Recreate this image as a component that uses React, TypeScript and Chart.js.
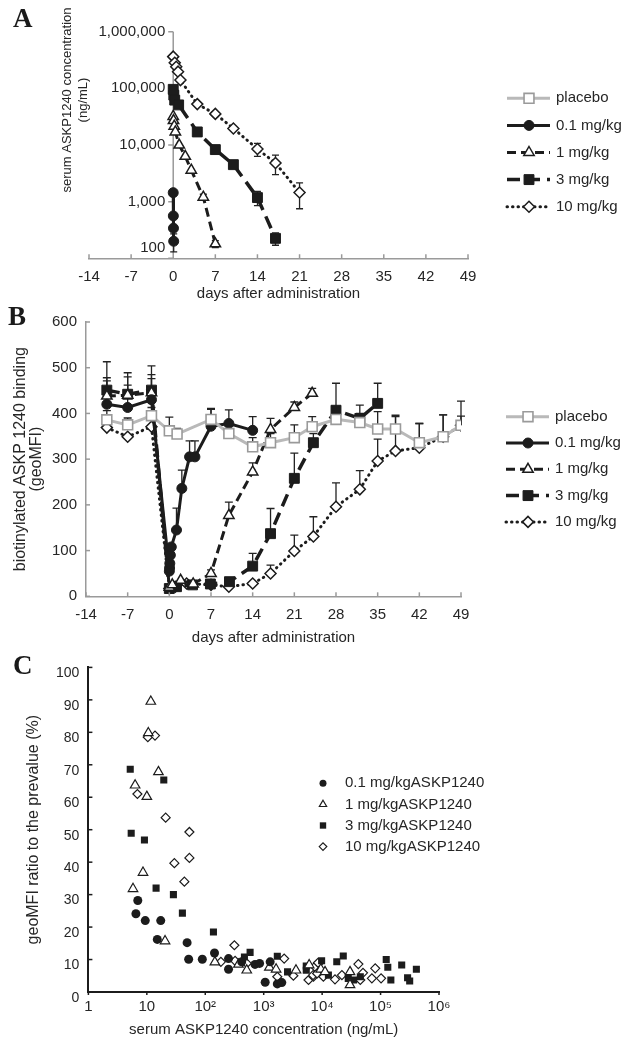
import React, { useEffect, useRef } from 'react';
import { Chart, registerables } from 'chart.js';

Chart.register(...registerables);

const FONT = "'Liberation Sans', Arial, Helvetica, sans-serif";
const TEXT = '#262626';
const AXIS_GRAY = '#9a9a9a';
const INK = '#1c1c1c';

// ================= Panel A : serum concentration (ng/mL) =================
const DAY_TICKS = [-14, -7, 0, 7, 14, 21, 28, 35, 42, 49];
const A_CONC_TICKS = [100, 1000, 10000, 100000, 1000000];

const A_DAY_01 = [0, 0.02, 0.04, 0.08];
const A_CONC_01 = [1440, 560, 340, 200];
const A_SD_01 = [0, 0, 0, 70];

const A_DAY_1 = [0, 0.05, 0.17, 0.35, 1, 2, 3, 5, 7];
const A_CONC_1 = [32000, 27000, 21500, 17000, 10000, 6300, 3600, 1200, 180];
const A_SD_1 = [0, 0, 0, 0, 0, 0, 0, 150, 25];

const A_DAY_3 = [0, 0.1, 0.25, 0.9, 4, 7, 10, 14, 17];
const A_CONC_3 = [96000, 76000, 62000, 51000, 17000, 8300, 4500, 1180, 225];
const A_SD_3 = [0, 0, 0, 0, 0, 0, 0, 330, 55];

const A_DAY_10 = [0, 0.25, 0.5, 0.8, 1.2, 4, 7, 10, 14, 17, 21];
const A_CONC_10 = [363000, 283000, 241000, 197000, 140000, 52700, 35400, 19600, 8500, 4800, 1450];
const A_SD_10 = [0, 0, 0, 0, 0, 0, 0, 0, 2200, 1800, 700];

// ================= Panel B : biotinylated ASKP1240 binding (geoMFI) =================
const B_DAY_PL = [-10.5, -7, -3, 0, 1.3, 7, 10, 14, 17, 21, 24, 28, 32, 35, 38, 42, 46, 49];
const B_MFI_PL = [386, 375, 395, 362, 355, 387, 356, 327, 336, 347, 371, 387, 380, 366, 366, 336, 349, 374];
const B_SE_PL = [20, 15, 18, 30, 12, 24, 20, 20, 20, 28, 22, 15, 20, 38, 30, 42, 48, 53];

const B_DAY_01 = [-10.5, -7, -3, 0, 0.04, 0.08, 0.17, 0.33, 1.2, 2.1, 3.4, 4.3, 7, 10, 14];
const B_MFI_01 = [420, 413, 430, 55, 62, 72, 90, 108, 145, 236, 305, 305, 372, 378, 363];
const B_SE_01 = [51, 49, 46, 0, 0, 0, 0, 0, 48, 40, 35, 35, 37, 30, 30];

const B_DAY_1 = [-10.5, -7, -3, 0, 0.5, 1.9, 4, 7, 10, 14, 17, 21, 24];
const B_MFI_1 = [438, 440, 445, 20, 25, 35, 27, 50, 177, 272, 365, 413, 444];
const B_SE_1 = [40, 40, 40, 0, 0, 0, 0, 8, 29, 20, 24, 12, 11];

const B_DAY_3 = [-10.5, -7, -3, 0, 1.2, 3.9, 6.9, 10.1, 14, 17, 21, 24.2, 28, 32, 35];
const B_MFI_3 = [451, 442, 451, 17, 21, 25, 27, 32, 66, 137, 258, 336, 407, 389, 422];
const B_SE_3 = [62, 47, 53, 0, 0, 0, 0, 0, 28, 55, 55, 20, 59, 29, 44];

const B_DAY_10 = [-10.5, -7, -3, 0, 1, 2.9, 7, 10, 14, 17, 21, 24.2, 28, 32, 35, 38, 42, 46, 49];
const B_MFI_10 = [369, 349, 371, 17, 21, 28, 25, 21, 28, 50, 99, 131, 196, 234, 296, 318, 325, 349, 374];
const B_SE_10 = [0, 0, 0, 0, 0, 0, 0, 0, 0, 18, 35, 43, 52, 41, 48, 75, 53, 48, 20];

// ================= Panel C : geoMFI ratio vs serum concentration =================
const C_X_TICKS = [1, 10, 100, 1000, 10000, 100000, 1000000];
const C_X_LABELS = ['1', '10', '10²', '10³', '10⁴', '10⁵', '10⁶'];

const C_CONC_01 = [7, 6.5, 9.4, 17.3, 15.1, 48.9, 52, 89, 144, 250, 250, 420, 710, 850, 1290, 1060, 1710, 2040];
const C_RATIO_01 = [28.2, 24.1, 22, 22, 16.2, 15.2, 10.1, 10.1, 12, 10.3, 7, 9.3, 8.5, 8.8, 9.3, 3, 2.5, 2.9];

const C_CONC_1 = [11.7, 10.6, 15.8, 6.3, 10, 8.6, 5.8, 20.5, 146, 370, 513, 1250, 1630, 3570, 6000, 9500, 11200, 30000, 30000];
const C_RATIO_1 = [89.5, 79.8, 67.8, 63.7, 60.2, 36.8, 31.8, 15.7, 9.2, 8.5, 6.7, 7.6, 7, 6.7, 8.3, 7, 6.2, 6.2, 2.2];

const C_CONC_3 = [5.2, 19.5, 5.4, 9.1, 14.4, 28.5, 40.6, 138, 585, 468, 1710, 2560, 5350, 5350, 9800, 12800, 17800, 23000, 28000, 34500, 45000, 125000, 133000, 150000, 230000, 290000, 315000, 410000];
const C_RATIO_3 = [68.6, 65.3, 48.9, 46.8, 32, 30, 24.3, 18.5, 12.2, 10.8, 11, 6.2, 8, 6.7, 9.6, 5.2, 9.3, 11.1, 4.2, 3.7, 4.7, 10, 7.6, 3.7, 8.3, 4.4, 3.4, 7];

const C_CONC_10 = [10.4, 13.8, 6.9, 21, 53.5, 53.5, 29.6, 43.9, 315, 185, 324, 513, 1710, 2240, 3220, 5850, 7100, 8700, 7500, 8500, 7000, 8200, 10500, 16600, 21800, 41700, 50000, 45000, 71000, 81000, 102000];
const C_RATIO_10 = [78.5, 79, 61, 53.7, 49.3, 41.3, 39.7, 34, 14.4, 9.3, 9.6, 8.8, 4.7, 10.3, 5, 3.7, 4.7, 8.8, 7.8, 9, 5.2, 5.7, 4.7, 3.9, 5.2, 8.6, 5.9, 3.7, 4.2, 7.3, 4.2];

// ================= styles =================
type St = { color: string; width: number; dash: number[]; cap: CanvasLineCap; point: string; radius: number; fill: string; edge: string; edgeW: number };
const ST_PLACEBO: St = { color: '#b9b9b9', width: 3, dash: [], cap: 'butt', point: 'rect', radius: 7, fill: '#ffffff', edge: '#9a9a9a', edgeW: 1.6 };
const ST_01: St = { color: INK, width: 3, dash: [], cap: 'butt', point: 'circle', radius: 5, fill: INK, edge: INK, edgeW: 1 };
const ST_1: St = { color: INK, width: 3, dash: [9, 5], cap: 'butt', point: 'triangle', radius: 6, fill: '#ffffff', edge: INK, edgeW: 1.5 };
const ST_3: St = { color: INK, width: 3.5, dash: [13, 7], cap: 'butt', point: 'rect', radius: 7, fill: INK, edge: INK, edgeW: 1 };
const ST_10: St = { color: INK, width: 3, dash: [0.5, 5], cap: 'round', point: 'rectRot', radius: 5.5, fill: '#ffffff', edge: INK, edgeW: 1.5 };

function lineDs(label: string, xs: number[], ys: number[], errs: number[], st: St) {
  return {
    label,
    data: xs.map((x, i) => ({ x, y: ys[i] })),
    errs,
    borderColor: st.color,
    borderWidth: st.width,
    borderDash: st.dash,
    borderCapStyle: st.cap,
    pointStyle: st.point,
    pointRadius: st.radius,
    pointBackgroundColor: st.fill,
    pointBorderColor: st.edge,
    pointBorderWidth: st.edgeW,
    tension: 0,
    fill: false,
  };
}

function drawMarker(ctx: CanvasRenderingContext2D, style: string, x: number, y: number, r: number, fill: string, stroke: string, lw: number) {
  ctx.save();
  ctx.setLineDash([]);
  ctx.beginPath();
  if (style === 'circle') {
    ctx.arc(x, y, r, 0, Math.PI * 2);
  } else if (style === 'rect') {
    const s = r * Math.SQRT1_2;
    ctx.rect(x - s, y - s, 2 * s, 2 * s);
  } else if (style === 'triangle') {
    ctx.moveTo(x, y - r);
    ctx.lineTo(x + r * 0.866, y + r * 0.5);
    ctx.lineTo(x - r * 0.866, y + r * 0.5);
  } else {
    ctx.moveTo(x - r, y);
    ctx.lineTo(x, y - r);
    ctx.lineTo(x + r, y);
    ctx.lineTo(x, y + r);
  }
  ctx.closePath();
  ctx.fillStyle = fill;
  ctx.fill();
  if (lw > 0) {
    ctx.lineWidth = lw;
    ctx.strokeStyle = stroke;
    ctx.stroke();
  }
  ctx.restore();
}

function errorBars(both: boolean, cap: number) {
  return {
    id: 'errorBars',
    beforeDatasetsDraw(chart: any) {
      const ctx = chart.ctx;
      const xs = chart.scales.x;
      const ys = chart.scales.y;
      ctx.save();
      ctx.strokeStyle = '#222';
      ctx.lineWidth = 1.3;
      chart.data.datasets.forEach((ds: any) => {
        if (!ds.errs) return;
        ds.data.forEach((p: any, i: number) => {
          const e = ds.errs[i];
          if (!e) return;
          const px = xs.getPixelForValue(p.x);
          const y0 = ys.getPixelForValue(p.y);
          const yt = ys.getPixelForValue(p.y + e);
          ctx.beginPath();
          ctx.moveTo(px, y0);
          ctx.lineTo(px, yt);
          ctx.moveTo(px - cap, yt);
          ctx.lineTo(px + cap, yt);
          if (both) {
            const yb = ys.getPixelForValue(Math.max(p.y - e, p.y * 0.1));
            ctx.moveTo(px, y0);
            ctx.lineTo(px, yb);
            ctx.moveTo(px - cap, yb);
            ctx.lineTo(px + cap, yb);
          }
          ctx.stroke();
        });
      });
      ctx.restore();
    },
  };
}

function lineLegend(x0: number, y0: number, dy: number) {
  return {
    id: 'lineLegend',
    afterDraw(chart: any) {
      const ctx = chart.ctx;
      chart.data.datasets.forEach((ds: any, i: number) => {
        const y = y0 + i * dy;
        ctx.save();
        ctx.strokeStyle = ds.borderColor;
        ctx.lineWidth = ds.borderWidth;
        ctx.lineCap = ds.borderCapStyle || 'butt';
        ctx.setLineDash(ds.borderDash || []);
        ctx.beginPath();
        ctx.moveTo(x0, y);
        ctx.lineTo(x0 + 43, y);
        ctx.stroke();
        drawMarker(ctx, ds.pointStyle, x0 + 22, y, ds.pointRadius, ds.pointBackgroundColor, ds.pointBorderColor, ds.pointBorderWidth);
        ctx.fillStyle = TEXT;
        ctx.font = `15px ${FONT}`;
        ctx.textAlign = 'left';
        ctx.textBaseline = 'middle';
        ctx.fillText(ds.label, x0 + 49, y);
        ctx.restore();
      });
    },
  };
}

function tickMarks(color: string, width: number, xLen: number, yLen: number) {
  return {
    id: 'tickMarks',
    afterDraw(chart: any) {
      const { ctx, chartArea: ca, scales } = chart;
      ctx.save();
      ctx.strokeStyle = color;
      ctx.lineWidth = width;
      scales.x.ticks.forEach((t: any) => {
        const px = scales.x.getPixelForValue(t.value);
        ctx.beginPath();
        ctx.moveTo(px, ca.bottom);
        ctx.lineTo(px, ca.bottom - xLen);
        ctx.stroke();
      });
      scales.y.ticks.forEach((t: any) => {
        const py = scales.y.getPixelForValue(t.value);
        ctx.beginPath();
        ctx.moveTo(ca.left, py);
        ctx.lineTo(ca.left + yLen, py);
        ctx.stroke();
      });
      ctx.restore();
    },
  };
}

// y-axis of panel A crosses the x-axis at day 0
const aAxisLine = {
  id: 'aAxisLine',
  beforeDatasetsDraw(chart: any) {
    const { ctx, chartArea: ca, scales } = chart;
    const x0 = scales.x.getPixelForValue(0);
    ctx.save();
    ctx.strokeStyle = AXIS_GRAY;
    ctx.lineWidth = 1.5;
    ctx.beginPath();
    ctx.moveTo(x0, ca.top);
    ctx.lineTo(x0, ca.bottom);
    A_CONC_TICKS.forEach((v) => {
      const py = scales.y.getPixelForValue(v);
      ctx.moveTo(x0 - 5, py);
      ctx.lineTo(x0, py);
    });
    DAY_TICKS.forEach((d) => {
      const px = scales.x.getPixelForValue(d);
      ctx.moveTo(px, ca.bottom);
      ctx.lineTo(px, ca.bottom - 4);
    });
    ctx.stroke();
    ctx.restore();
  },
  afterDraw(chart: any) {
    const { ctx, scales } = chart;
    const x0 = scales.x.getPixelForValue(0);
    ctx.save();
    ctx.fillStyle = TEXT;
    ctx.font = `15px ${FONT}`;
    ctx.textAlign = 'right';
    ctx.textBaseline = 'middle';
    A_CONC_TICKS.forEach((v, i) => {
      const py = scales.y.getPixelForValue(v);
      ctx.fillText(v.toLocaleString('en-US'), x0 - 8, i === 0 ? py - 10 : py);
    });
    ctx.translate(67, 100);
    ctx.rotate(-Math.PI / 2);
    ctx.textAlign = 'center';
    ctx.font = `13px ${FONT}`;
    ctx.fillText('serum ASKP1240 concentration', 0, 0);
    ctx.fillText('(ng/mL)', 0, 16.5);
    ctx.restore();
  },
};

const tickFont = { family: FONT, size: 15 };

function buildA() {
  return {
    type: 'line',
    data: {
      datasets: [
        lineDs('placebo', [], [], [], ST_PLACEBO),
        lineDs('0.1 mg/kg', A_DAY_01, A_CONC_01, A_SD_01, ST_01),
        lineDs('1 mg/kg', A_DAY_1, A_CONC_1, A_SD_1, ST_1),
        lineDs('3 mg/kg', A_DAY_3, A_CONC_3, A_SD_3, ST_3),
        lineDs('10 mg/kg', A_DAY_10, A_CONC_10, A_SD_10, ST_10),
      ],
    },
    options: {
      responsive: false,
      animation: false,
      devicePixelRatio: 1,
      events: [],
      layout: { padding: { left: 89, right: 155, top: 31.7, bottom: 0 } },
      plugins: { legend: { display: false }, tooltip: { enabled: false } },
      scales: {
        x: {
          type: 'linear',
          min: -14,
          max: 49,
          afterBuildTicks: (s: any) => { s.ticks = DAY_TICKS.map((v) => ({ value: v })); },
          afterFit: (s: any) => { s.height = 51.7; },
          grid: { display: false, drawTicks: false },
          border: { display: true, color: AXIS_GRAY, width: 1.5 },
          ticks: { padding: 10, font: tickFont, color: TEXT, autoSkip: false, maxRotation: 0 },
          title: { display: true, text: 'days after administration', color: TEXT, font: { family: FONT, size: 15 }, padding: { top: 0, bottom: 7 } },
        },
        y: { type: 'logarithmic', display: false, min: 100, max: 1000000 },
      },
    },
    plugins: [aAxisLine, errorBars(true, 3.5), lineLegend(507, 98.3, 27.1)],
  };
}

function buildB() {
  return {
    type: 'line',
    data: {
      datasets: [
        lineDs('placebo', B_DAY_PL, B_MFI_PL, B_SE_PL, ST_PLACEBO),
        lineDs('0.1 mg/kg', B_DAY_01, B_MFI_01, B_SE_01, ST_01),
        lineDs('1 mg/kg', B_DAY_1, B_MFI_1, B_SE_1, ST_1),
        lineDs('3 mg/kg', B_DAY_3, B_MFI_3, B_SE_3, ST_3),
        lineDs('10 mg/kg', B_DAY_10, B_MFI_10, B_SE_10, ST_10),
      ],
    },
    options: {
      responsive: false,
      animation: false,
      devicePixelRatio: 1,
      events: [],
      layout: { padding: { left: 0, right: 162, top: 32, bottom: 0 } },
      plugins: { legend: { display: false }, tooltip: { enabled: false } },
      scales: {
        x: {
          type: 'linear',
          min: -14,
          max: 49,
          afterBuildTicks: (s: any) => { s.ticks = DAY_TICKS.map((v) => ({ value: v })); },
          afterFit: (s: any) => { s.height = 53.7; },
          grid: { display: false, drawTicks: false },
          border: { display: true, color: AXIS_GRAY, width: 1.5 },
          ticks: { padding: 10, font: tickFont, color: TEXT, autoSkip: false, maxRotation: 0 },
          title: { display: true, text: 'days after administration', color: TEXT, font: { family: FONT, size: 15 }, padding: { top: 0, bottom: 3 } },
        },
        y: {
          type: 'linear',
          min: 0,
          max: 600,
          afterFit: (s: any) => { s.width = 86; },
          grid: { display: false, drawTicks: false },
          border: { display: true, color: AXIS_GRAY, width: 1.5 },
          ticks: { stepSize: 100, padding: 9, font: tickFont, color: TEXT },
          title: {
            display: true,
            text: ['biotinylated ASKP 1240 binding', '(geoMFI)'],
            color: TEXT,
            font: { family: FONT, size: 16, lineHeight: 1 },
            padding: { top: 13, bottom: 0 },
          },
        },
      },
    },
    plugins: [errorBars(false, 4), tickMarks(AXIS_GRAY, 1.5, 4, 4), lineLegend(506, 126.7, 26.3)],
  };
}

type CSt = { point: string; radius: number; fill: string; edgeW: number; legendR: number };
const CST_01: CSt = { point: 'circle', radius: 4.5, fill: INK, edgeW: 0, legendR: 3.5 };
const CST_1: CSt = { point: 'triangle', radius: 5.5, fill: '#ffffff', edgeW: 1.2, legendR: 4.2 };
const CST_3: CSt = { point: 'rect', radius: 5, fill: INK, edgeW: 0, legendR: 4.5 };
const CST_10: CSt = { point: 'rectRot', radius: 4.5, fill: '#ffffff', edgeW: 1.2, legendR: 3.8 };

function scatterDs(label: string, xs: number[], ys: number[], st: CSt) {
  return {
    label,
    data: xs.map((x, i) => ({ x, y: ys[i] })),
    showLine: false,
    pointStyle: st.point,
    pointRadius: st.radius,
    pointBackgroundColor: st.fill,
    pointBorderColor: INK,
    pointBorderWidth: st.edgeW,
    legendR: st.legendR,
  };
}

const scatterLegend = {
  id: 'scatterLegend',
  afterDraw(chart: any) {
    const ctx = chart.ctx;
    chart.data.datasets.forEach((ds: any, i: number) => {
      const y = 133.3 + i * 21.1;
      drawMarker(ctx, ds.pointStyle, 323, y, ds.legendR, ds.pointBackgroundColor, ds.pointBorderColor, ds.pointBorderWidth);
      ctx.save();
      ctx.fillStyle = TEXT;
      ctx.font = `15px ${FONT}`;
      ctx.textAlign = 'left';
      ctx.textBaseline = 'middle';
      ctx.fillText(ds.label, 345, y);
      ctx.restore();
    });
  },
};

function buildC() {
  return {
    type: 'scatter',
    data: {
      datasets: [
        scatterDs('0.1 mg/kgASKP1240', C_CONC_01, C_RATIO_01, CST_01),
        scatterDs('1 mg/kgASKP1240', C_CONC_1, C_RATIO_1, CST_1),
        scatterDs('3 mg/kgASKP1240', C_CONC_3, C_RATIO_3, CST_3),
        scatterDs('10 mg/kgASKP1240', C_CONC_10, C_RATIO_10, CST_10),
      ],
    },
    options: {
      responsive: false,
      animation: false,
      devicePixelRatio: 1,
      events: [],
      layout: { padding: { left: 0, right: 184, top: 15.7, bottom: 0 } },
      plugins: { legend: { display: false }, tooltip: { enabled: false } },
      scales: {
        x: {
          type: 'logarithmic',
          min: 1,
          max: 1000000,
          afterBuildTicks: (s: any) => { s.ticks = C_X_TICKS.map((v) => ({ value: v })); },
          afterFit: (s: any) => { s.height = 48; },
          grid: { display: false, drawTicks: false },
          border: { display: true, color: INK, width: 2 },
          ticks: { padding: 6, font: tickFont, color: TEXT, autoSkip: false, maxRotation: 0, callback: (_v: any, i: number) => C_X_LABELS[i] },
          title: { display: true, text: 'serum ASKP1240 concentration (ng/mL)', color: TEXT, font: { family: FONT, size: 15 }, padding: { top: 0, bottom: 1 } },
        },
        y: {
          type: 'linear',
          min: 0,
          max: 100,
          afterFit: (s: any) => { s.width = 88.4; },
          grid: { display: false, drawTicks: false },
          border: { display: true, color: INK, width: 2 },
          ticks: { stepSize: 10, padding: 9, labelOffset: 6, font: { family: FONT, size: 14 }, color: TEXT },
          title: { display: true, text: 'geoMFI ratio to the prevalue (%)', color: TEXT, font: { family: FONT, size: 16 }, padding: { top: 23.7, bottom: 0 } },
        },
      },
    },
    plugins: [tickMarks(INK, 1.5, -3, 4), scatterLegend],
  };
}

function ChartPanel({ top, height, build }: { top: number; height: number; build: () => any }) {
  const ref = useRef<HTMLCanvasElement>(null);
  useEffect(() => {
    const chart = new Chart(ref.current as HTMLCanvasElement, build());
    return () => chart.destroy();
  }, []);
  return (
    <canvas
      ref={ref}
      width={623}
      height={height}
      style={{ position: 'absolute', left: 0, top, width: 623, height }}
    />
  );
}

function letterStyle(left: number, top: number): React.CSSProperties {
  return {
    position: 'absolute',
    left,
    top,
    fontFamily: "'Liberation Serif', 'Times New Roman', serif",
    fontWeight: 'bold',
    fontSize: 27,
    lineHeight: 1,
    color: '#1a1a1a',
  };
}

export default function App() {
  return (
    <div style={{ position: 'absolute', left: 0, top: 0, width: 623, height: 1040, background: '#ffffff', overflow: 'hidden' }}>
      <ChartPanel top={0} height={310} build={buildA} />
      <ChartPanel top={290} height={360} build={buildB} />
      <ChartPanel top={650} height={390} build={buildC} />
      <div style={letterStyle(13, 5)}>A</div>
      <div style={letterStyle(8, 303)}>B</div>
      <div style={letterStyle(13, 652)}>C</div>
    </div>
  );
}
